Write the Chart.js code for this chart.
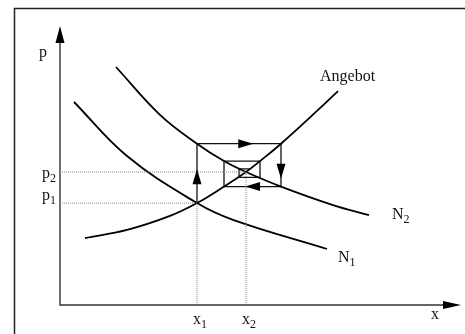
<!DOCTYPE html>
<html>
<head>
<meta charset="utf-8">
<script src="https://cdn.jsdelivr.net/npm/chart.js@4/dist/chart.umd.min.js"></script>
<style>
  html, body { margin: 0; padding: 0; background: #fff; }
  #wrap { width: 465px; height: 334px; }
</style>
</head>
<body>
<div id="wrap"><canvas id="market" width="465" height="334"></canvas></div>
<script>
// Angebotskurve (Menge x, Preis p)
const supplyX = [6.25, 16.75, 27.5, 34.25, 41, 46.5, 50, 55.25, 64.25, 69.5];
const supplyP = [23.9, 26.8, 31.8, 36.4, 42.3, 47.5, 51.4, 57.6, 69.3, 76.4];

// Nachfrage N1 (vorher)
const demand1X = [3.5, 16.75, 34.25, 43.25, 66.75];
const demand1P = [72.5, 53.2, 36.4, 30.4, 20];

// Nachfrage N2 (nach der Verschiebung)
const demand2X = [14, 25, 34.25, 41, 46.5, 55.25, 68.25, 77.25];
const demand2P = [85, 67.9, 57.6, 51.4, 47.5, 42.3, 35.7, 32.1];

// Gleichgewichte
const eqX = [34.25, 46.5];
const eqP = [36.4, 47.5];
const eqXLabels = ['x', 'x'];
const eqPLabels = ['p', 'p'];
const eqSubs = ['1', '2'];

// Spinnweb: abwechselnd Preis (senkrecht) und Menge (waagerecht)
const cobwebX = [34.25, 55.25, 41, 50, 44.75, 47.5];
const cobwebP = [36.4, 57.6, 42.3, 51.4, 45.6, 48.6];

const curveNames = ['Angebot', 'N', 'N'];
const curveSubs = ['', '1', '2'];

const FONT = '16px "Liberation Serif", "Times New Roman", serif';
const SUBFONT = '12px "Liberation Serif", "Times New Roman", serif';

function toPoints(xs, ys) {
    return xs.map((x, i) => ({ x: x, y: ys[i] }));
}

// Treppenpfad des Spinnwebs aufbauen
function cobwebPoints() {
    const pts = [{ x: cobwebX[0], y: cobwebP[0] }];
    for (let i = 1; i < cobwebX.length; i++) {
        pts.push({ x: cobwebX[i - 1], y: cobwebP[i] });
        pts.push({ x: cobwebX[i], y: cobwebP[i] });
    }
    return pts;
}

function guide(i) {
    return {
        data: [{ x: 0, y: eqP[i] }, { x: eqX[i], y: eqP[i] }, { x: eqX[i], y: 0 }],
        borderColor: '#8a8a8a',
        borderWidth: 1,
        borderDash: [1, 1],
        pointRadius: 0,
        showLine: true,
        tension: 0
    };
}

function curve(xs, ys) {
    return {
        data: toPoints(xs, ys),
        borderColor: '#000',
        borderWidth: 1.8,
        pointRadius: 0,
        showLine: true,
        tension: 0.4
    };
}

// Pfeilspitze mit Spitze bei (x, y), Richtung dx/dy
function arrowHead(ctx, x, y, dx, dy, len, half) {
    const bx = x - dx * len, by = y - dy * len;
    ctx.beginPath();
    ctx.moveTo(x, y);
    ctx.lineTo(bx - dy * half, by + dx * half);
    ctx.lineTo(bx + dy * half, by - dx * half);
    ctx.closePath();
    ctx.fill();
}

// Text mit tiefgestelltem Index
function subText(ctx, base, sub, x, y, align) {
    ctx.font = FONT;
    const w1 = ctx.measureText(base).width;
    ctx.font = SUBFONT;
    const w2 = sub ? ctx.measureText(sub).width : 0;
    let left = x;
    if (align === 'right') left = x - w1 - w2;
    ctx.textAlign = 'left';
    ctx.textBaseline = 'alphabetic';
    ctx.font = FONT;
    ctx.fillText(base, left, y);
    if (sub) {
        ctx.font = SUBFONT;
        ctx.fillText(sub, left + w1, y + 4);
    }
}

const diagramPlugin = {
    id: 'diagram',
    beforeDatasetsDraw(chart) {
        const ctx = chart.ctx;
        const a = chart.chartArea;
        ctx.save();
        // Rahmen
        ctx.strokeStyle = '#222';
        ctx.lineWidth = 1.5;
        ctx.beginPath();
        ctx.moveTo(14.5, 334);
        ctx.lineTo(14.5, 8.5);
        ctx.lineTo(465, 8.5);
        ctx.stroke();
        // Achsen
        ctx.strokeStyle = '#333';
        ctx.fillStyle = '#000';
        ctx.lineWidth = 1.4;
        ctx.beginPath();
        ctx.moveTo(a.left, a.top + 10);
        ctx.lineTo(a.left, a.bottom);
        ctx.lineTo(a.right - 10, a.bottom);
        ctx.stroke();
        arrowHead(ctx, a.left, a.top + 1, 0, -1, 17, 4.5);
        arrowHead(ctx, a.right + 1, a.bottom, 1, 0, 18, 4);
        ctx.restore();
    },
    afterDatasetsDraw(chart) {
        const ctx = chart.ctx;
        const a = chart.chartArea;
        const sx = chart.scales.x, sy = chart.scales.y;
        ctx.save();
        ctx.fillStyle = '#000';

        // Pfeile auf den ersten vier Spinnweb-Strecken
        const pts = cobwebPoints();
        const share = [0.57, 0.67, 0.82, 0.63];
        for (let i = 0; i < 4; i++) {
            const x0 = sx.getPixelForValue(pts[i].x), y0 = sy.getPixelForValue(pts[i].y);
            const x1 = sx.getPixelForValue(pts[i + 1].x), y1 = sy.getPixelForValue(pts[i + 1].y);
            const d = Math.hypot(x1 - x0, y1 - y0);
            const dx = (x1 - x0) / d, dy = (y1 - y0) / d;
            arrowHead(ctx, x0 + (x1 - x0) * share[i], y0 + (y1 - y0) * share[i], dx, dy, 15, 4.5);
        }

        ctx.fillStyle = '#111';
        // Achsenbeschriftung
        subText(ctx, 'p', '', a.left - 21, a.top + 32, 'left');
        subText(ctx, 'x', '', a.right - 29, a.bottom + 14, 'left');

        // Gleichgewichtswerte
        const pOff = [-3, 6];
        for (let i = 0; i < eqX.length; i++) {
            subText(ctx, eqPLabels[i], eqSubs[i], a.left - 4, sy.getPixelForValue(eqP[i]) + pOff[i], 'right');
            subText(ctx, eqXLabels[i], eqSubs[i], sx.getPixelForValue(eqX[i]) - 4, a.bottom + 19, 'left');
        }

        // Kurvennamen am Kurvenende
        const ends = [
            [supplyX[supplyX.length - 1], supplyP[supplyP.length - 1], -18, -10],
            [demand1X[demand1X.length - 1], demand1P[demand1P.length - 1], 11, 13],
            [demand2X[demand2X.length - 1], demand2P[demand2P.length - 1], 23, 4]
        ];
        ends.forEach((e, i) => {
            subText(ctx, curveNames[i], curveSubs[i], sx.getPixelForValue(e[0]) + e[2], sy.getPixelForValue(e[1]) + e[3], 'left');
        });
        ctx.restore();
    }
};

new Chart(document.getElementById('market'), {
    type: 'scatter',
    data: {
        datasets: [
            guide(0),
            guide(1),
            curve(supplyX, supplyP),
            curve(demand1X, demand1P),
            curve(demand2X, demand2P),
            {
                data: cobwebPoints(),
                borderColor: '#111',
                borderWidth: 1.3,
                pointRadius: 0,
                showLine: true,
                tension: 0
            }
        ]
    },
    options: {
        responsive: false,
        animation: false,
        layout: { padding: { left: 60, right: 5, top: 25, bottom: 29 } },
        plugins: {
            legend: { display: false },
            tooltip: { enabled: false }
        },
        scales: {
            x: { type: 'linear', min: 0, max: 100, display: false },
            y: { type: 'linear', min: 0, max: 100, display: false }
        }
    },
    plugins: [diagramPlugin]
});
</script>
</body>
</html>
